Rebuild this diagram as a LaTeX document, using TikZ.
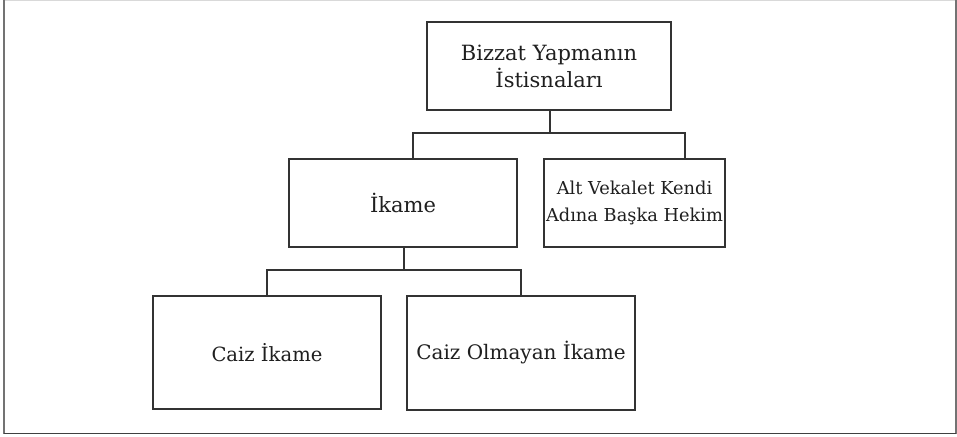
\documentclass[tikz,border=0pt]{standalone}
\usepackage{fontspec}
\setmainfont{DejaVu Serif}
\newcommand{\labelsize}[1]{\fontsize{#1}{27}\selectfont}
\begin{document}
\begin{tikzpicture}[x=1pt,y=-1pt,
  box/.style={draw=black!80, line width=1.1pt, rectangle, align=center,
    text=black!88, inner sep=0pt},
  link/.style={draw=black!80, line width=1.1pt}]
  \useasboundingbox (0,0) rectangle (957,436);
  % outer frame
  \draw[black!15, line width=1.2pt] (4,0.6) -- (956,0.6);
  \draw[black!55, line width=1.4pt] (4,0) -- (4,434);
  \draw[black!55, line width=1.4pt] (956,0) -- (956,434);
  \draw[black!75, line width=1.4pt] (4,433.5) -- (956,433.5);

  % boxes
  \node[box, minimum width=244, minimum height=88, font=\labelsize{21}] (root) at (549,66) {Bizzat Yapmanın\\İstisnaları};
  \node[box, minimum width=228, minimum height=88, font=\labelsize{21}] (ikame) at (403,203) {İkame};
  \node[box, minimum width=181, minimum height=88, font=\labelsize{17.8}] (alt) at (634.5,203) {Alt Vekalet Kendi\\Adına Başka Hekim};
  \node[box, minimum width=228, minimum height=113, font=\labelsize{19.6}] (caiz) at (267,352.5) {Caiz İkame};
  \node[box, minimum width=228, minimum height=114, font=\labelsize{20}] (caizol) at (521,353) {Caiz Olmayan İkame};

  % connectors
  \coordinate (j1L) at (413,133);
  \coordinate (j1R) at (685,133);
  \coordinate (j2L) at (267,270);
  \coordinate (j2R) at (521,270);
  \draw[link] (root.south -| 550,0) -- (550,133);
  \draw[link] (ikame.north -| j1L) -- (j1L) -- (j1R) -- (alt.north -| j1R);
  \draw[link] (ikame.south -| 404,0) -- (404,270);
  \draw[link] (caiz.north) -- (j2L) -- (j2R) -- (caizol.north);
\end{tikzpicture}
\end{document}
